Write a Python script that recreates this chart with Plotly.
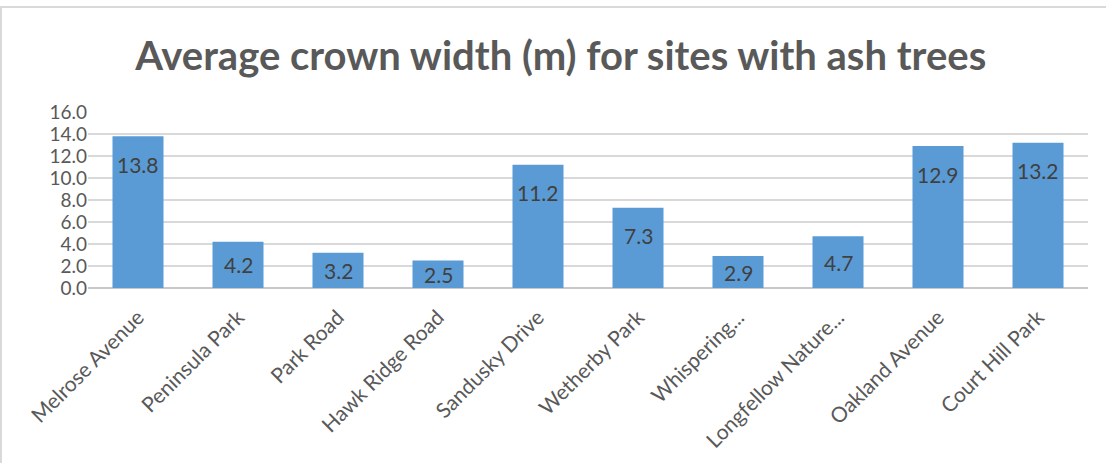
import plotly.graph_objects as go

sites = ["Melrose Avenue", "Peninsula Park", "Park Road", "Hawk Ridge Road",
         "Sandusky Drive", "Wetherby Park", "Whispering...", "Longfellow Nature...",
         "Oakland Avenue", "Court Hill Park"]
crown_width = [13.8, 4.2, 3.2, 2.5, 11.2, 7.3, 2.9, 4.7, 12.9, 13.2]
y_ticks = [0, 2, 4, 6, 8, 10, 12, 14, 16]
y_tick_labels = [f"{v:.1f}" for v in y_ticks]

font_family = "Lato, Carlito, 'Open Sans', sans-serif"

fig = go.Figure(go.Bar(
    x=sites,
    y=crown_width,
    marker=dict(color="#5b9bd5", line=dict(width=0)),
    hoverinfo="x+y",
))

# Value labels sit inside each bar near its top; short bars get them centred.
label_offset = 2.55  # data units below the bar top
for site, v in zip(sites, crown_width):
    fig.add_annotation(
        x=site, y=max(v - label_offset, v / 2),
        text=f"{v:.1f}", showarrow=False,
        xanchor="center", yanchor="middle",
        font=dict(family=font_family, size=21, color="#404040"),
    )

fig.update_layout(
    width=1106, height=463,
    paper_bgcolor="white", plot_bgcolor="white",
    margin=dict(l=88, r=18, t=112, b=175),
    bargap=0.49,
    showlegend=False,
    title=dict(
        text="<b>Average crown width (m) for sites with ash trees</b>",
        x=0.507, xanchor="center", y=0.88, yanchor="middle",
        font=dict(family=font_family, size=40, color="#595959"),
    ),
    xaxis=dict(
        tickangle=-45,
        tickfont=dict(family=font_family, size=21, color="#595959"),
        ticklabelstandoff=12,
        showgrid=False, showline=False, ticks="",
    ),
    yaxis=dict(
        range=[0, 16], tickvals=y_ticks, ticktext=y_tick_labels,
        tickfont=dict(family=font_family, size=19, color="#595959"),
        showgrid=True, gridcolor="#d9d9d9", gridwidth=2,
        zeroline=True, zerolinecolor="#c8c8c8", zerolinewidth=2,
        showline=False, ticks="",
    ),
    shapes=[
        dict(type="line", xref="paper", yref="paper", x0=-88/1000, x1=(1106-88)/1000,
             y0=1 + (112-7)/176, y1=1 + (112-7)/176, line=dict(color="#d9d9d9", width=2)),
        dict(type="line", xref="paper", yref="paper", x0=-87/1000, x1=-87/1000,
             y0=1 + (112-7)/176, y1=-175/176, line=dict(color="#d9d9d9", width=2)),
    ],
)

fig.write_html("out.html")
